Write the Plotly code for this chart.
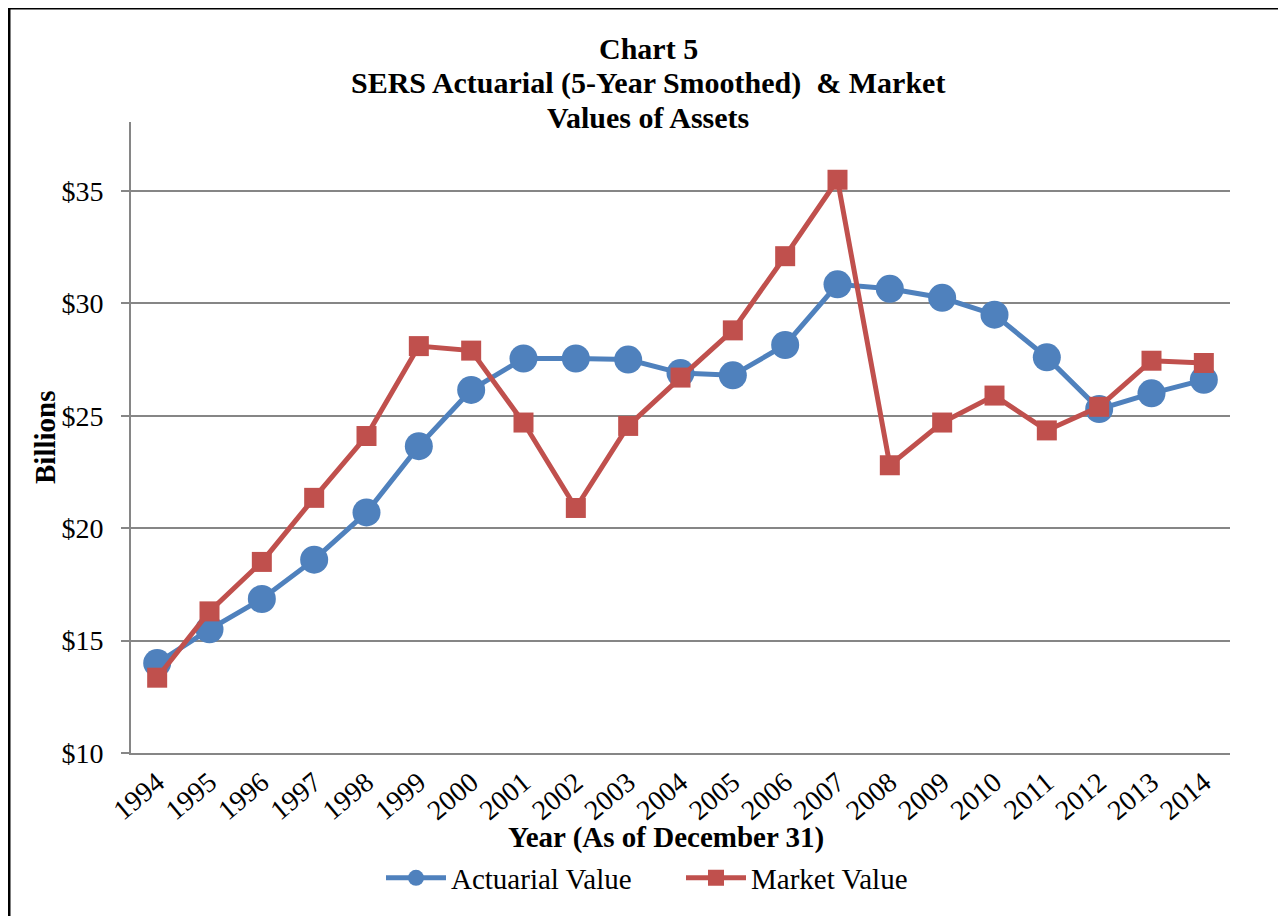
import plotly.graph_objects as go

years = [str(y) for y in range(1994, 2015)]
actuarial = [14.0, 15.5, 16.85, 18.6, 20.7, 23.65, 26.15, 27.55, 27.55, 27.5, 26.9,
             26.8, 28.15, 30.85, 30.65, 30.25, 29.5, 27.6, 25.3, 26.0, 26.6]
market = [13.35, 16.3, 18.5, 21.35, 24.1, 28.1, 27.9, 24.7, 20.9, 24.55, 26.7,
          28.8, 32.1, 35.5, 22.8, 24.7, 25.9, 24.35, 25.4, 27.45, 27.35]
y_ticks = [10, 15, 20, 25, 30, 35]
y_tick_labels = ["$10", "$15", "$20", "$25", "$30", "$35"]
title_lines = ["Chart 5", "SERS Actuarial (5-Year Smoothed)\u00a0 &amp; Market", "Values of Assets"]

BLUE = "#4F81BD"
RED = "#C0504D"
GRID = "#868686"
FONT = "Liberation Serif"

fig = go.Figure()
fig.add_trace(go.Scatter(
    x=years, y=actuarial, name="Actuarial Value", mode="lines+markers",
    line=dict(color=BLUE, width=5),
    marker=dict(symbol="circle", size=28, color=BLUE),
))
fig.add_trace(go.Scatter(
    x=years, y=market, name="Market Value", mode="lines+markers",
    line=dict(color=RED, width=5),
    marker=dict(symbol="square", size=20, color=RED),
))

OFF = 8  # page body margin
W, H = 1286 - OFF, 916 - OFF
# plot area in viewport coordinates: x 131..1230, y 122..753
L = 131 - OFF
T = 122 - OFF
R = W - (1230 - OFF)
B = H - (753 - OFF)
pw, ph = W - L - R, H - T - B

def px_x(p):
    return (p - OFF - L) / pw

def px_y(p):
    return (H - B - (p - OFF)) / ph

title_y = [48, 83, 117]
annotations = []
for txt, yy in zip(title_lines, title_y):
    annotations.append(dict(
        text="<b>" + txt + "</b>", xref="paper", yref="paper",
        x=px_x(648), y=px_y(yy), xanchor="center", yanchor="middle",
        showarrow=False, font=dict(family=FONT, size=30, color="black")))
annotations += [
    dict(text="<b>Year (As of December 31)</b>", xref="paper", yref="paper",
         x=px_x(666), y=px_y(837), xanchor="center", yanchor="middle",
         showarrow=False, font=dict(family=FONT, size=29, color="black")),
    dict(text="<b>Billions</b>", xref="paper", yref="paper",
         x=px_x(45), y=px_y(437), xanchor="center", yanchor="middle",
         textangle=-90, showarrow=False,
         font=dict(family=FONT, size=29, color="black")),
]

fig.update_layout(
    width=W, height=H,
    margin=dict(l=L, r=R, t=T, b=B, autoexpand=False),
    paper_bgcolor="white", plot_bgcolor="white",
    font=dict(family=FONT, color="black"),
    xaxis=dict(
        type="category", range=[-0.5, 20.5],
        showgrid=False, showline=True, linecolor=GRID, linewidth=2,
        ticks="", tickangle=-40,
        tickfont=dict(family=FONT, size=28, color="black"),
    ),
    yaxis=dict(
        range=[10, 10 + (753 - 122) / 22.48],
        tickvals=y_ticks, ticktext=y_tick_labels,
        showgrid=True, gridcolor=GRID, gridwidth=1.5,
        showline=True, linecolor=GRID, linewidth=2,
        ticks="outside", ticklen=8, tickcolor=GRID, tickwidth=2,
        ticklabelstandoff=12,
        tickfont=dict(family=FONT, size=28, color="black"),
        zeroline=False,
    ),
    showlegend=True,
    legend=dict(
        orientation="h", x=(681 - OFF) / W, xref="container", xanchor="center",
        y=1 - (878 - OFF) / H, yref="container", yanchor="middle",
        font=dict(family=FONT, size=29, color="black"),
        bgcolor="rgba(0,0,0,0)", itemwidth=60, tracegroupgap=0,
        entrywidth=225, entrywidthmode="pixels",
    ),
    annotations=annotations,
    shapes=[
        dict(type="rect", xref="paper", yref="paper",
             x0=px_x(9), x1=px_x(1310), y0=px_y(940), y1=px_y(8),
             line=dict(color="black", width=3), fillcolor="rgba(0,0,0,0)",
             layer="above"),
    ],
)

fig.write_html("out.html")
